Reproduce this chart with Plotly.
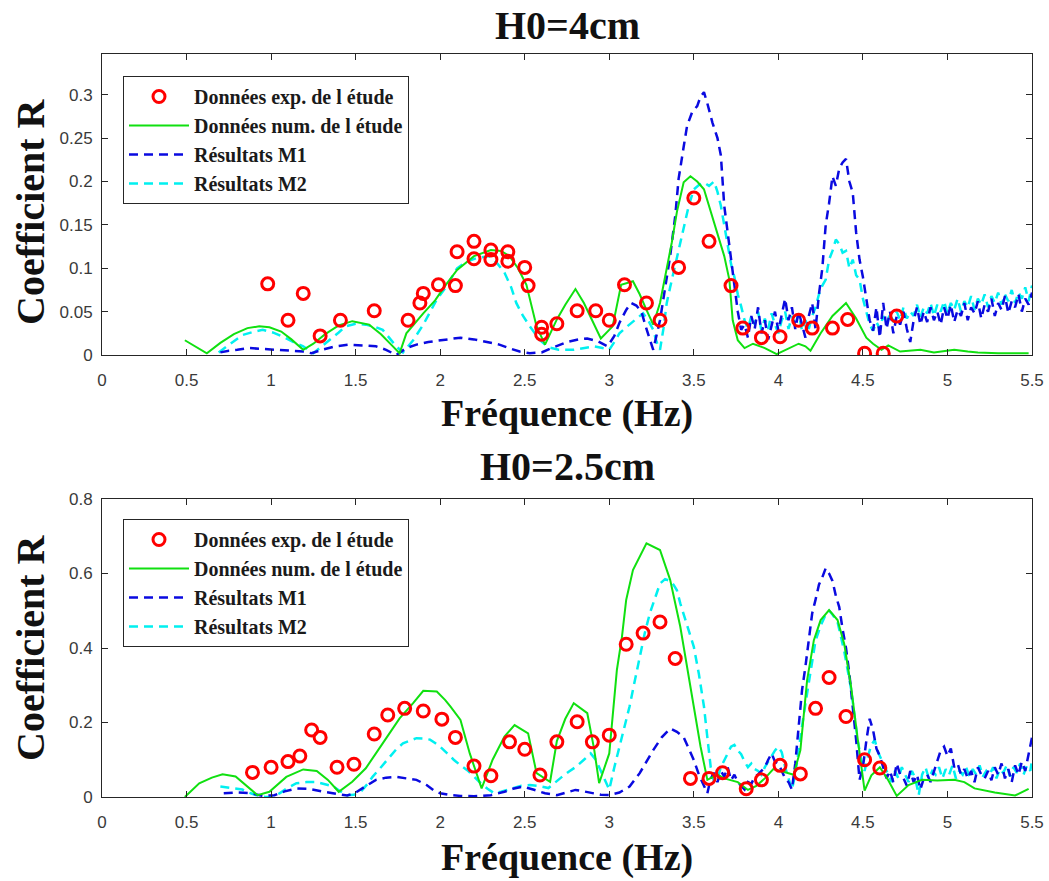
import plotly.graph_objects as go

# ---------------- H0 = 4 cm (top) ----------------
exp4_f = [0.98, 1.10, 1.19, 1.29, 1.41, 1.61, 1.81, 1.88, 1.90, 1.99, 2.09, 2.10, 2.20, 2.20,
          2.30, 2.30, 2.40, 2.40, 2.50, 2.52, 2.60, 2.60, 2.69, 2.81, 2.92, 3.00, 3.09, 3.22,
          3.30, 3.41, 3.50, 3.59, 3.72, 3.79, 3.90, 4.01, 4.12, 4.20, 4.32, 4.41, 4.51, 4.62, 4.70]
exp4_R = [0.082, 0.040, 0.071, 0.022, 0.040, 0.051, 0.040, 0.060, 0.071, 0.081, 0.080, 0.119, 0.131, 0.111,
          0.121, 0.110, 0.119, 0.108, 0.101, 0.080, 0.032, 0.024, 0.036, 0.051, 0.051, 0.040, 0.081, 0.060,
          0.040, 0.101, 0.181, 0.131, 0.080, 0.031, 0.020, 0.021, 0.040, 0.031, 0.031, 0.041, 0.002, 0.002, 0.045]

num4_f = [0.49, 0.55, 0.62, 0.70, 0.78, 0.86, 0.93, 0.99, 1.06, 1.12, 1.19, 1.25, 1.32, 1.40, 1.48,
          1.58, 1.65, 1.71, 1.76, 1.80, 1.85, 1.90, 1.97, 2.03, 2.10, 2.20, 2.30, 2.36, 2.41, 2.46,
          2.51, 2.57, 2.62, 2.69, 2.74, 2.80, 2.85, 2.90, 2.95, 3.02, 3.07, 3.14, 3.18, 3.22, 3.26,
          3.30, 3.34, 3.37, 3.40, 3.44, 3.48, 3.52, 3.56, 3.60, 3.64, 3.68, 3.71, 3.73, 3.76, 3.80,
          3.85, 3.92, 3.99, 4.06, 4.12, 4.16, 4.19, 4.25, 4.32, 4.40, 4.46, 4.52, 4.56, 4.61, 4.65,
          4.72, 4.78, 4.84, 4.92, 5.04, 5.12, 5.18, 5.30, 5.40, 5.48]
num4_R = [0.017, 0.010, 0.002, 0.014, 0.024, 0.031, 0.033, 0.032, 0.027, 0.018, 0.006, 0.013, 0.024, 0.034, 0.039,
          0.035, 0.024, 0.012, 0.002, 0.025, 0.037, 0.048, 0.063, 0.080, 0.098, 0.114, 0.121, 0.120, 0.114, 0.100,
          0.081, 0.033, 0.012, 0.041, 0.058, 0.076, 0.060, 0.040, 0.019, 0.033, 0.081, 0.085, 0.070, 0.052, 0.035,
          0.060, 0.100, 0.130, 0.165, 0.199, 0.206, 0.200, 0.191, 0.166, 0.141, 0.114, 0.087, 0.040, 0.017, 0.008,
          0.013, 0.008, 0.001, 0.007, 0.013, 0.010, 0.005, 0.025, 0.045, 0.060, 0.042, 0.020, 0.013, 0.006, 0.011,
          0.004, 0.005, 0.006, 0.003, 0.006, 0.004, 0.003, 0.002, 0.002, 0.002]

m1_4_f = [0.70, 0.75, 0.80, 0.87, 0.95, 1.03, 1.10, 1.19, 1.24, 1.30, 1.38, 1.46, 1.54, 1.62, 1.68,
          1.74, 1.80, 1.86, 1.93, 2.00, 2.06, 2.12, 2.20, 2.28, 2.35, 2.42, 2.47, 2.53, 2.60, 2.66,
          2.75, 2.82, 2.87, 2.93, 2.99, 3.03, 3.06, 3.10, 3.13, 3.16, 3.19, 3.22, 3.26, 3.30, 3.33,
          3.36, 3.39, 3.41, 3.44, 3.46, 3.49, 3.52, 3.54, 3.56, 3.58, 3.61, 3.64, 3.66, 3.68, 3.70,
          3.72, 3.74, 3.76, 3.78, 3.80, 3.82, 3.84, 3.86, 3.88, 3.90, 3.92, 3.94, 3.96, 3.98, 4.00,
          4.02, 4.04, 4.06, 4.08, 4.10, 4.12, 4.14, 4.16, 4.18, 4.20, 4.22, 4.24, 4.26, 4.28, 4.30,
          4.32, 4.34, 4.36, 4.38, 4.40, 4.42, 4.44, 4.46, 4.48, 4.50, 4.52, 4.54, 4.56, 4.58, 4.60,
          4.62, 4.64, 4.66, 4.68, 4.70, 4.72, 4.74, 4.76, 4.78, 4.80, 4.82, 4.84, 4.86, 4.88, 4.90,
          4.92, 4.94, 4.96, 4.98, 5.00, 5.02, 5.04, 5.06, 5.08, 5.10, 5.12, 5.14, 5.16, 5.18, 5.20,
          5.22, 5.24, 5.26, 5.28, 5.30, 5.32, 5.34, 5.36, 5.38, 5.40, 5.42, 5.44, 5.46, 5.48, 5.50]
m1_4_R = [0.003, 0.005, 0.006, 0.008, 0.007, 0.006, 0.005, 0.004, 0.002, 0.006, 0.010, 0.012, 0.011, 0.010, 0.006,
          0.000, 0.008, 0.012, 0.015, 0.017, 0.019, 0.020, 0.018, 0.015, 0.012, 0.007, 0.004, 0.002, 0.003, 0.008,
          0.015, 0.018, 0.019, 0.016, 0.010, 0.022, 0.037, 0.052, 0.060, 0.057, 0.050, 0.030, 0.006, 0.040, 0.075,
          0.114, 0.160, 0.203, 0.240, 0.264, 0.280, 0.287, 0.298, 0.303, 0.290, 0.268, 0.250, 0.230, 0.172, 0.140,
          0.114, 0.080, 0.050, 0.029, 0.035, 0.020, 0.045, 0.030, 0.055, 0.025, 0.040, 0.018, 0.035, 0.050, 0.028,
          0.045, 0.065, 0.040, 0.055, 0.030, 0.050, 0.035, 0.020, 0.045, 0.060, 0.030, 0.070, 0.100, 0.150, 0.175,
          0.206, 0.195, 0.215, 0.222, 0.226, 0.200, 0.187, 0.141, 0.110, 0.090, 0.064, 0.040, 0.028, 0.055, 0.020,
          0.060, 0.030, 0.050, 0.025, 0.045, 0.035, 0.050, 0.030, 0.015, 0.040, 0.055, 0.035, 0.050, 0.038, 0.055,
          0.040, 0.050, 0.035, 0.055, 0.042, 0.058, 0.038, 0.052, 0.045, 0.060, 0.040, 0.055, 0.048, 0.062, 0.042,
          0.058, 0.050, 0.065, 0.045, 0.060, 0.052, 0.068, 0.048, 0.062, 0.055, 0.070, 0.050, 0.065, 0.058, 0.072]

m2_4_f = [0.69, 0.75, 0.83, 0.90, 0.95, 1.01, 1.07, 1.13, 1.19, 1.25, 1.30, 1.35, 1.40, 1.44, 1.50,
          1.56, 1.62, 1.66, 1.70, 1.74, 1.78, 1.84, 1.90, 1.94, 1.98, 2.04, 2.10, 2.16, 2.22, 2.29,
          2.34, 2.38, 2.42, 2.45, 2.49, 2.53, 2.59, 2.64, 2.70, 2.79, 2.85, 2.91, 2.96, 3.00, 3.03,
          3.06, 3.10, 3.15, 3.20, 3.23, 3.26, 3.28, 3.30, 3.32, 3.34, 3.36, 3.38, 3.41, 3.44, 3.47,
          3.50, 3.53, 3.56, 3.59, 3.62, 3.64, 3.66, 3.68, 3.70, 3.72, 3.74, 3.76, 3.78, 3.80, 3.82,
          3.84, 3.86, 3.88, 3.90, 3.92, 3.94, 3.96, 3.98, 4.00, 4.02, 4.04, 4.06, 4.08, 4.10, 4.12,
          4.14, 4.16, 4.18, 4.20, 4.22, 4.24, 4.26, 4.28, 4.30, 4.32, 4.34, 4.36, 4.38, 4.40, 4.42,
          4.44, 4.46, 4.48, 4.50, 4.52, 4.54, 4.56, 4.58, 4.60, 4.62, 4.64, 4.66, 4.68, 4.70, 4.72,
          4.74, 4.76, 4.78, 4.80, 4.82, 4.84, 4.86, 4.88, 4.90, 4.92, 4.94, 4.96, 4.98, 5.00, 5.02,
          5.04, 5.06, 5.08, 5.10, 5.12, 5.14, 5.16, 5.18, 5.20, 5.22, 5.24, 5.26, 5.28, 5.30, 5.32,
          5.34, 5.36, 5.38, 5.40, 5.42, 5.44, 5.46, 5.48, 5.50]
m2_4_R = [0.003, 0.012, 0.023, 0.027, 0.029, 0.026, 0.021, 0.015, 0.010, 0.002, 0.010, 0.017, 0.026, 0.033, 0.036,
          0.035, 0.032, 0.029, 0.020, 0.010, 0.003, 0.017, 0.035, 0.050, 0.064, 0.080, 0.100, 0.108, 0.112, 0.114,
          0.105, 0.095, 0.078, 0.060, 0.045, 0.033, 0.017, 0.009, 0.006, 0.006, 0.008, 0.010, 0.008, 0.006, 0.015,
          0.025, 0.032, 0.040, 0.048, 0.040, 0.029, 0.015, 0.006, 0.030, 0.060, 0.078, 0.095, 0.122, 0.149, 0.172,
          0.191, 0.196, 0.199, 0.195, 0.200, 0.188, 0.172, 0.150, 0.125, 0.105, 0.090, 0.070, 0.056, 0.040, 0.030,
          0.045, 0.035, 0.050, 0.028, 0.042, 0.030, 0.048, 0.035, 0.025, 0.040, 0.050, 0.030, 0.045, 0.035, 0.048,
          0.028, 0.040, 0.030, 0.045, 0.055, 0.070, 0.080, 0.087, 0.110, 0.120, 0.133, 0.128, 0.118, 0.120, 0.100,
          0.110, 0.092, 0.087, 0.065, 0.050, 0.035, 0.028, 0.038, 0.030, 0.045, 0.035, 0.048, 0.038, 0.050, 0.040,
          0.055, 0.042, 0.050, 0.045, 0.058, 0.043, 0.055, 0.048, 0.060, 0.045, 0.058, 0.050, 0.062, 0.048, 0.060,
          0.052, 0.065, 0.050, 0.062, 0.055, 0.068, 0.052, 0.065, 0.058, 0.070, 0.055, 0.068, 0.060, 0.072, 0.058,
          0.070, 0.062, 0.075, 0.060, 0.072, 0.065, 0.078, 0.062, 0.080]

# ---------------- H0 = 2.5 cm (bottom) ----------------
exp25_f = [0.89, 1.00, 1.10, 1.17, 1.24, 1.29, 1.39, 1.49, 1.61, 1.69, 1.79, 1.90, 2.01, 2.09,
           2.20, 2.30, 2.41, 2.50, 2.59, 2.69, 2.81, 2.90, 3.00, 3.10, 3.20, 3.30, 3.39, 3.48,
           3.59, 3.67, 3.81, 3.90, 4.01, 4.13, 4.22, 4.30, 4.40, 4.51, 4.60]
exp25_R = [0.066, 0.080, 0.095, 0.110, 0.180, 0.160, 0.080, 0.088, 0.169, 0.220, 0.238, 0.231, 0.209, 0.160,
           0.083, 0.057, 0.148, 0.128, 0.059, 0.148, 0.202, 0.148, 0.166, 0.410, 0.440, 0.470, 0.372, 0.050,
           0.050, 0.065, 0.022, 0.046, 0.085, 0.062, 0.238, 0.321, 0.216, 0.100, 0.078]

num25_f = [0.49, 0.575, 0.65, 0.713, 0.79, 0.86, 0.92, 0.99, 1.04, 1.09, 1.19, 1.27, 1.336, 1.40, 1.48,
           1.56, 1.66, 1.76, 1.84, 1.90, 1.98, 2.03, 2.06, 2.12, 2.175, 2.245, 2.31, 2.38, 2.44, 2.52,
           2.57, 2.65, 2.69, 2.74, 2.79, 2.87, 2.91, 2.94, 3.00, 3.045, 3.075, 3.10, 3.14, 3.22, 3.30,
           3.36, 3.42, 3.48, 3.54, 3.58, 3.64, 3.68, 3.72, 3.76, 3.82, 3.87, 3.92, 3.97, 4.03, 4.09,
           4.13, 4.17, 4.21, 4.25, 4.30, 4.35, 4.39, 4.43, 4.47, 4.51, 4.55, 4.60, 4.65, 4.70, 4.77,
           4.85, 4.94, 5.04, 5.10, 5.16, 5.28, 5.40, 5.48]
num25_R = [0.000, 0.037, 0.052, 0.061, 0.055, 0.028, 0.005, 0.014, 0.035, 0.054, 0.074, 0.070, 0.046, 0.014, 0.041,
           0.077, 0.144, 0.211, 0.252, 0.285, 0.283, 0.260, 0.243, 0.207, 0.117, 0.023, 0.100, 0.162, 0.193, 0.171,
           0.064, 0.041, 0.150, 0.210, 0.252, 0.225, 0.130, 0.037, 0.117, 0.341, 0.430, 0.529, 0.609, 0.681, 0.663,
           0.583, 0.457, 0.296, 0.135, 0.046, 0.060, 0.050, 0.046, 0.040, 0.019, 0.030, 0.050, 0.075, 0.068, 0.060,
           0.125, 0.314, 0.421, 0.475, 0.502, 0.475, 0.410, 0.296, 0.153, 0.017, 0.058, 0.080, 0.045, 0.003, 0.032,
           0.046, 0.044, 0.046, 0.040, 0.023, 0.012, 0.004, 0.022]

m1_25_f = [0.72, 0.80, 0.88, 0.95, 1.02, 1.08, 1.15, 1.22, 1.31, 1.38, 1.45, 1.50, 1.55, 1.62, 1.68,
           1.74, 1.80, 1.86, 1.92, 1.97, 2.00, 2.06, 2.12, 2.20, 2.30, 2.38, 2.43, 2.49, 2.55, 2.62,
           2.69, 2.75, 2.80, 2.85, 2.90, 2.95, 3.00, 3.06, 3.12, 3.18, 3.22, 3.26, 3.31, 3.36, 3.40,
           3.44, 3.47, 3.50, 3.53, 3.56, 3.58, 3.60, 3.62, 3.64, 3.66, 3.68, 3.70, 3.72, 3.74, 3.76,
           3.78, 3.80, 3.82, 3.84, 3.86, 3.88, 3.90, 3.92, 3.94, 3.96, 3.98, 4.00, 4.02, 4.04, 4.06,
           4.08, 4.10, 4.12, 4.14, 4.16, 4.18, 4.20, 4.22, 4.24, 4.26, 4.28, 4.30, 4.32, 4.34, 4.36,
           4.38, 4.40, 4.42, 4.44, 4.46, 4.48, 4.50, 4.52, 4.54, 4.56, 4.58, 4.60, 4.62, 4.64, 4.66,
           4.68, 4.70, 4.72, 4.74, 4.76, 4.78, 4.80, 4.82, 4.84, 4.86, 4.88, 4.90, 4.92, 4.94, 4.96,
           4.98, 5.00, 5.02, 5.04, 5.06, 5.08, 5.10, 5.12, 5.14, 5.16, 5.18, 5.20, 5.22, 5.24, 5.26,
           5.28, 5.30, 5.32, 5.34, 5.36, 5.38, 5.40, 5.42, 5.44, 5.46, 5.48, 5.50]
m1_25_R = [0.010, 0.012, 0.010, 0.003, 0.005, 0.015, 0.023, 0.022, 0.014, 0.008, 0.004, 0.012, 0.027, 0.046, 0.052,
           0.054, 0.050, 0.046, 0.032, 0.015, 0.010, 0.005, 0.003, 0.002, 0.005, 0.014, 0.022, 0.028, 0.020, 0.010,
           0.005, 0.012, 0.019, 0.015, 0.010, 0.006, 0.005, 0.012, 0.028, 0.064, 0.095, 0.126, 0.160, 0.184, 0.175,
           0.160, 0.130, 0.099, 0.060, 0.028, 0.010, 0.050, 0.065, 0.040, 0.070, 0.055, 0.080, 0.045, 0.060, 0.040,
           0.030, 0.020, 0.040, 0.035, 0.055, 0.060, 0.070, 0.080, 0.100, 0.117, 0.095, 0.090, 0.070, 0.050, 0.040,
           0.020, 0.090, 0.190, 0.287, 0.350, 0.430, 0.493, 0.530, 0.570, 0.590, 0.614, 0.600, 0.580, 0.540, 0.510,
           0.450, 0.400, 0.330, 0.250, 0.153, 0.046, 0.080, 0.150, 0.210, 0.180, 0.130, 0.110, 0.080, 0.050, 0.070,
           0.040, 0.090, 0.060, 0.050, 0.030, 0.070, 0.040, 0.060, 0.020, 0.050, 0.060, 0.040, 0.070, 0.100, 0.125,
           0.135, 0.110, 0.130, 0.080, 0.090, 0.060, 0.075, 0.050, 0.070, 0.040, 0.080, 0.060, 0.050, 0.070, 0.045,
           0.080, 0.060, 0.090, 0.050, 0.075, 0.040, 0.085, 0.060, 0.095, 0.070, 0.120, 0.160]

m2_25_f = [0.70, 0.76, 0.83, 0.88, 0.91, 0.96, 1.00, 1.05, 1.10, 1.15, 1.21, 1.27, 1.32, 1.37, 1.41,
           1.45, 1.49, 1.53, 1.57, 1.60, 1.65, 1.70, 1.74, 1.78, 1.82, 1.86, 1.90, 1.94, 1.97, 2.00,
           2.04, 2.08, 2.12, 2.16, 2.20, 2.24, 2.28, 2.32, 2.36, 2.40, 2.44, 2.48, 2.53, 2.58, 2.64,
           2.68, 2.72, 2.76, 2.80, 2.85, 2.89, 2.92, 2.94, 2.97, 3.00, 3.03, 3.06, 3.09, 3.12, 3.15,
           3.18, 3.21, 3.24, 3.27, 3.30, 3.33, 3.36, 3.38, 3.40, 3.42, 3.44, 3.47, 3.50, 3.53, 3.56,
           3.58, 3.60, 3.62, 3.64, 3.66, 3.68, 3.70, 3.72, 3.74, 3.76, 3.78, 3.80, 3.82, 3.84, 3.86,
           3.88, 3.90, 3.92, 3.94, 3.96, 3.98, 4.00, 4.02, 4.04, 4.06, 4.08, 4.10, 4.12, 4.14, 4.16,
           4.18, 4.20, 4.22, 4.25, 4.28, 4.30, 4.32, 4.35, 4.37, 4.39, 4.41, 4.43, 4.45, 4.47, 4.49,
           4.51, 4.53, 4.55, 4.57, 4.59, 4.61, 4.63, 4.65, 4.67, 4.69, 4.71, 4.73, 4.75, 4.77, 4.79,
           4.81, 4.83, 4.85, 4.87, 4.89, 4.91, 4.93, 4.95, 4.97, 4.99, 5.01, 5.03, 5.05, 5.07, 5.09,
           5.11, 5.13, 5.15, 5.17, 5.19, 5.21, 5.23, 5.25, 5.27, 5.29, 5.31, 5.33, 5.35, 5.37, 5.39,
           5.41, 5.43, 5.45, 5.47, 5.49, 5.50]
m2_25_R = [0.028, 0.025, 0.020, 0.010, 0.005, 0.001, 0.000, 0.010, 0.025, 0.037, 0.040, 0.040, 0.035, 0.028, 0.015,
           0.005, 0.006, 0.014, 0.035, 0.054, 0.080, 0.108, 0.128, 0.144, 0.152, 0.158, 0.157, 0.154, 0.145, 0.135,
           0.118, 0.100, 0.085, 0.072, 0.055, 0.037, 0.022, 0.010, 0.014, 0.020, 0.026, 0.030, 0.032, 0.030, 0.024,
           0.040, 0.054, 0.068, 0.080, 0.100, 0.117, 0.100, 0.080, 0.050, 0.020, 0.080, 0.135, 0.190, 0.243, 0.310,
           0.377, 0.440, 0.493, 0.535, 0.573, 0.585, 0.580, 0.570, 0.555, 0.520, 0.490, 0.450, 0.403, 0.330, 0.243,
           0.160, 0.080, 0.040, 0.050, 0.080, 0.099, 0.120, 0.135, 0.140, 0.125, 0.115, 0.095, 0.080, 0.090, 0.075,
           0.070, 0.060, 0.080, 0.095, 0.110, 0.125, 0.135, 0.120, 0.080, 0.050, 0.020, 0.060, 0.130, 0.190, 0.250,
           0.310, 0.370, 0.420, 0.460, 0.490, 0.500, 0.490, 0.470, 0.430, 0.390, 0.340, 0.290, 0.220, 0.150, 0.100,
           0.070, 0.110, 0.140, 0.153, 0.120, 0.100, 0.080, 0.060, 0.040, 0.070, 0.050, 0.080, 0.060, 0.040, 0.070,
           0.050, 0.005, 0.060, 0.080, 0.050, 0.070, 0.060, 0.080, 0.050, 0.075, 0.060, 0.085, 0.050, 0.070, 0.060,
           0.080, 0.055, 0.075, 0.060, 0.085, 0.055, 0.070, 0.060, 0.080, 0.050, 0.075, 0.065, 0.085, 0.055, 0.080,
           0.065, 0.090, 0.060, 0.085, 0.070, 0.100]

x_ticks = [0, 0.5, 1, 1.5, 2, 2.5, 3, 3.5, 4, 4.5, 5, 5.5]
x_ticktext = ["0", "0.5", "1", "1.5", "2", "2.5", "3", "3.5", "4", "4.5", "5", "5.5"]
y4_ticks = [0, 0.05, 0.1, 0.15, 0.2, 0.25, 0.3]
y4_ticktext = ["0", "0.05", "0.1", "0.15", "0.2", "0.25", "0.3"]
y25_ticks = [0, 0.2, 0.4, 0.6, 0.8]
y25_ticktext = ["0", "0.2", "0.4", "0.6", "0.8"]

names = ["Données exp. de l étude", "Données num. de l étude", "Résultats M1", "Résultats M2"]
titles = ["H0=4cm", "H0=2.5cm"]
xlabel = "Fréquence (Hz)"
ylabel = "Coefficient R"

RED = "#ff0000"
GREEN = "#10e010"
BLUE = "#0a0ae0"
CYAN = "#00f0f0"
DASH = "9px,6px"

W, H = 1049, 881
fig = go.Figure()

def add_panel(ex_f, ex_R, nu_f, nu_R, a_f, a_R, b_f, b_R, xa, ya, leg):
    fig.add_trace(go.Scatter(x=b_f, y=b_R, mode="lines", name=names[3], legend=leg, legendrank=4,
                             line=dict(color=CYAN, width=2.5, dash=DASH), xaxis=xa, yaxis=ya))
    fig.add_trace(go.Scatter(x=a_f, y=a_R, mode="lines", name=names[2], legend=leg, legendrank=3,
                             line=dict(color=BLUE, width=2.5, dash=DASH), xaxis=xa, yaxis=ya))
    fig.add_trace(go.Scatter(x=nu_f, y=nu_R, mode="lines", name=names[1], legend=leg, legendrank=2,
                             line=dict(color=GREEN, width=2), xaxis=xa, yaxis=ya))
    fig.add_trace(go.Scatter(x=ex_f, y=ex_R, mode="markers", name=names[0], legend=leg, legendrank=1,
                             marker=dict(symbol="circle-open", size=12, color=RED,
                                         line=dict(color=RED, width=3)),
                             xaxis=xa, yaxis=ya))

add_panel(exp4_f, exp4_R, num4_f, num4_R, m1_4_f, m1_4_R, m2_4_f, m2_4_R, "x", "y", "legend")
add_panel(exp25_f, exp25_R, num25_f, num25_R, m1_25_f, m1_25_R, m2_25_f, m2_25_R, "x2", "y2", "legend2")

X0, X1 = 102, 1032
TOP = (54, 355)
BOT = (499, 797)

def px(x):
    return x / W

def py(y):
    return 1 - y / H

tickfont = dict(family="Liberation Sans Narrow, Arial Narrow, Liberation Sans, Arial", size=17, color="#3a3a3a")
axis_common = dict(showline=True, linecolor="#262626", linewidth=1, mirror="ticks", ticks="inside",
                   ticklen=6, tickcolor="#262626", showgrid=False, zeroline=False, tickfont=tickfont,
                   automargin=False)

legfont = dict(family="Liberation Serif, Times New Roman, serif", size=20, color="#1a1a1a", weight="bold")
fig.update_layout(
    width=W, height=H, margin=dict(l=0, r=0, t=0, b=0),
    template="none", paper_bgcolor="white", plot_bgcolor="white",
    xaxis=dict(domain=[px(X0), px(X1)], range=[0, 5.5], anchor="y", tickvals=x_ticks,
               ticktext=x_ticktext, ticklabelstandoff=10, **axis_common),
    yaxis=dict(domain=[py(TOP[1]), py(TOP[0])], range=[0, 0.347], anchor="x", tickvals=y4_ticks,
               ticktext=y4_ticktext, ticklabelstandoff=5, **axis_common),
    xaxis2=dict(domain=[px(X0), px(X1)], range=[0, 5.5], anchor="y2", tickvals=x_ticks,
                ticktext=x_ticktext, ticklabelstandoff=10, **axis_common),
    yaxis2=dict(domain=[py(BOT[1]), py(BOT[0])], range=[0, 0.8], anchor="x2", tickvals=y25_ticks,
                ticktext=y25_ticktext, ticklabelstandoff=5, **axis_common),
    legend=dict(x=px(123), y=py(76), xanchor="left", yanchor="top", bgcolor="white",
                bordercolor="#262626", borderwidth=1, itemwidth=60, tracegroupgap=0, font=legfont),
    legend2=dict(x=px(123), y=py(519), xanchor="left", yanchor="top", bgcolor="white",
                 bordercolor="#262626", borderwidth=1, itemwidth=60, tracegroupgap=0, font=legfont),
)

serif_bold = dict(family="Liberation Serif, Times New Roman, serif", color="#111111", weight="bold")
ann = []
ann.append(dict(text=titles[0], x=px((X0 + X1) / 2), y=py(25), font=dict(size=40, **serif_bold)))
ann.append(dict(text=titles[1], x=px((X0 + X1) / 2), y=py(466), font=dict(size=40, **serif_bold)))
ann.append(dict(text=xlabel, x=px((X0 + X1) / 2), y=py(414), font=dict(size=38, **serif_bold)))
ann.append(dict(text=xlabel, x=px((X0 + X1) / 2), y=py(857), font=dict(size=38, **serif_bold)))
ann.append(dict(text=ylabel, x=px(30), y=py(212), textangle=-90, font=dict(size=40, **serif_bold)))
ann.append(dict(text=ylabel, x=px(30), y=py(648), textangle=-90, font=dict(size=40, **serif_bold)))
for a in ann:
    a.update(xref="paper", yref="paper", xanchor="center", yanchor="middle", showarrow=False)
fig.update_layout(annotations=ann)

fig.write_html("out.html", config={"displayModeBar": False},
               post_script="document.body.style.margin='0px';document.body.style.overflow='hidden';")
